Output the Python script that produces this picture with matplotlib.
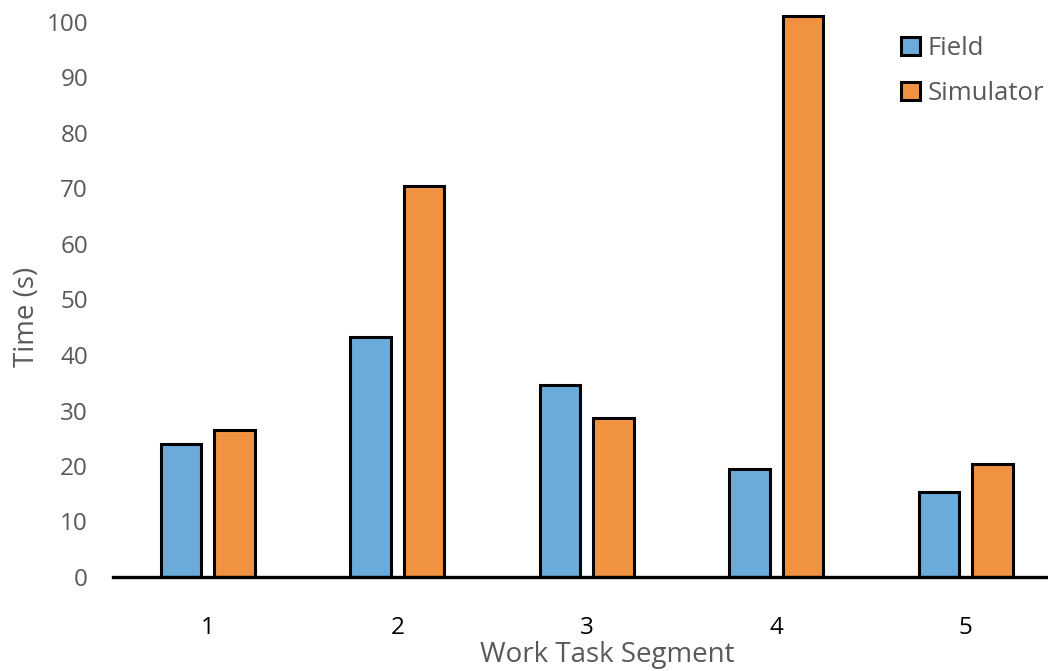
import matplotlib
matplotlib.use('Agg')
import matplotlib.pyplot as plt
import numpy as np

segments = ['1', '2', '3', '4', '5']
field = [23.9, 43.3, 34.6, 19.5, 15.3]
simulator = [26.4, 70.5, 28.7, 101.1, 20.4]
yticks = [0, 10, 20, 30, 40, 50, 60, 70, 80, 90, 100]

plt.rcParams['font.family'] = ['Open Sans', 'DejaVu Sans']

fig = plt.figure(figsize=(10.48, 6.71), dpi=100)
# plot area runs past the right and top edges of the canvas
ax = fig.add_axes([113 / 1048, 94 / 671, 947.5 / 1048, 104 * 5.55 / 671])

x = np.arange(len(segments))
w = 0.215
off = 0.1415
ax.bar(x - off, field, w, color='#6AABDB', edgecolor='black', linewidth=2.2, label='Field')
ax.bar(x + off, simulator, w, color='#F19241', edgecolor='black', linewidth=2.2, label='Simulator')

ax.set_xlim(-0.5, 4.5)
ax.set_ylim(0, 104)
ax.set_yticks(yticks)
ax.set_xticks(x)
ax.set_xticklabels(segments)

for s in ['top', 'right', 'left']:
    ax.spines[s].set_visible(False)
ax.spines['bottom'].set_linewidth(2.4)
ax.spines['bottom'].set_color('black')

ax.tick_params(axis='y', length=0, pad=18, labelsize=17.5, labelcolor='#595959')
ax.tick_params(axis='x', length=0, pad=28, labelsize=17.5, labelcolor='black')

ax.set_ylabel('Time (s)', fontsize=20, color='#595959')
ax.yaxis.set_label_coords(-0.076, 0.45)
ax.set_xlabel('Work Task Segment', fontsize=20, color='#595959')
ax.xaxis.set_label_coords(0.522, -0.111)

ax.legend(loc='upper left', bbox_to_anchor=(901 / 1048, 1 - 36 / 671),
          bbox_transform=fig.transFigure, frameon=False, fontsize=18.5,
          handlelength=0.72, handleheight=0.72, handletextpad=0.3,
          labelspacing=0.78, labelcolor='#595959', borderpad=0, borderaxespad=0)

fig.savefig('out.png', dpi=100)
